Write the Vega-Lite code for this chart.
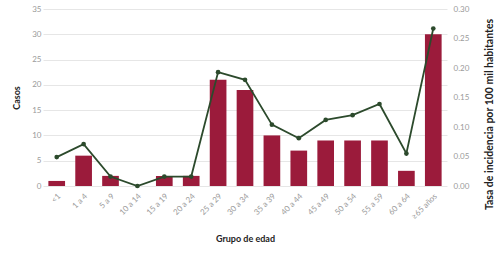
{
  "$schema": "https://vega.github.io/schema/vega-lite/v6.json",
  "width": 404,
  "height": 177,
  "autosize": {"type": "none"},
  "padding": {"left": 43, "top": 9, "right": 53, "bottom": 67},
  "background": "white",
  "config": {
    "view": {"stroke": null},
    "font": "Lato",
    "axis": {"labelColor": "#9a9a9a", "labelFontSize": 8, "titleFontSize": 9, "titleColor": "#222", "titleFontWeight": "bold", "domain": false, "ticks": false}
  },
  "data": {
    "values": [
      {"grupo": "<1", "casos": 1, "tasa": 0.049},
      {"grupo": "1 a 4", "casos": 6, "tasa": 0.071},
      {"grupo": "5 a 9", "casos": 2, "tasa": 0.016},
      {"grupo": "10 a 14", "casos": 0, "tasa": 0.0},
      {"grupo": "15 a 19", "casos": 2, "tasa": 0.016},
      {"grupo": "20 a 24", "casos": 2, "tasa": 0.016},
      {"grupo": "25 a 29", "casos": 21, "tasa": 0.193},
      {"grupo": "30 a 34", "casos": 19, "tasa": 0.18},
      {"grupo": "35 a 39", "casos": 10, "tasa": 0.104},
      {"grupo": "40 a 44", "casos": 7, "tasa": 0.081},
      {"grupo": "45 a 49", "casos": 9, "tasa": 0.112},
      {"grupo": "50 a 54", "casos": 9, "tasa": 0.12},
      {"grupo": "55 a 59", "casos": 9, "tasa": 0.139},
      {"grupo": "60 a 64", "casos": 3, "tasa": 0.055},
      {"grupo": "≥65 años", "casos": 30, "tasa": 0.267}
    ]
  },
  "encoding": {
    "x": {
      "field": "grupo", "type": "nominal", "sort": null,
      "scale": {"paddingInner": 0.38, "paddingOuter": 0.2},
      "axis": {"title": "Grupo de edad", "labelAngle": -45, "titlePadding": 14, "labelPadding": 6}
    }
  },
  "layer": [
    {
      "mark": {"type": "bar", "color": "#9b1b3b"},
      "encoding": {
        "y": {
          "field": "casos", "type": "quantitative",
          "scale": {"domain": [0, 35]},
          "axis": {"title": "Casos", "values": [0, 5, 10, 15, 20, 25, 30, 35], "gridColor": "#e6e6e6", "titlePadding": 10}
        }
      }
    },
    {
      "mark": {"type": "line", "color": "#2c4a2c", "strokeWidth": 1.8, "point": {"filled": true, "size": 22, "color": "#2c4a2c"}},
      "encoding": {
        "y": {
          "field": "tasa", "type": "quantitative",
          "scale": {"domain": [0, 0.3]},
          "axis": {"title": "Tasa de incidencia por 100 mil habitantes", "orient": "right", "format": ".2f", "values": [0, 0.05, 0.1, 0.15, 0.2, 0.25, 0.3], "grid": false, "titleAngle": -90, "titleX": 42, "titleY": 105, "titleAlign": "center", "titleBaseline": "middle", "titleFontSize": 10.5, "labelPadding": 6}
        }
      }
    }
  ],
  "resolve": {"scale": {"y": "independent"}}
}
